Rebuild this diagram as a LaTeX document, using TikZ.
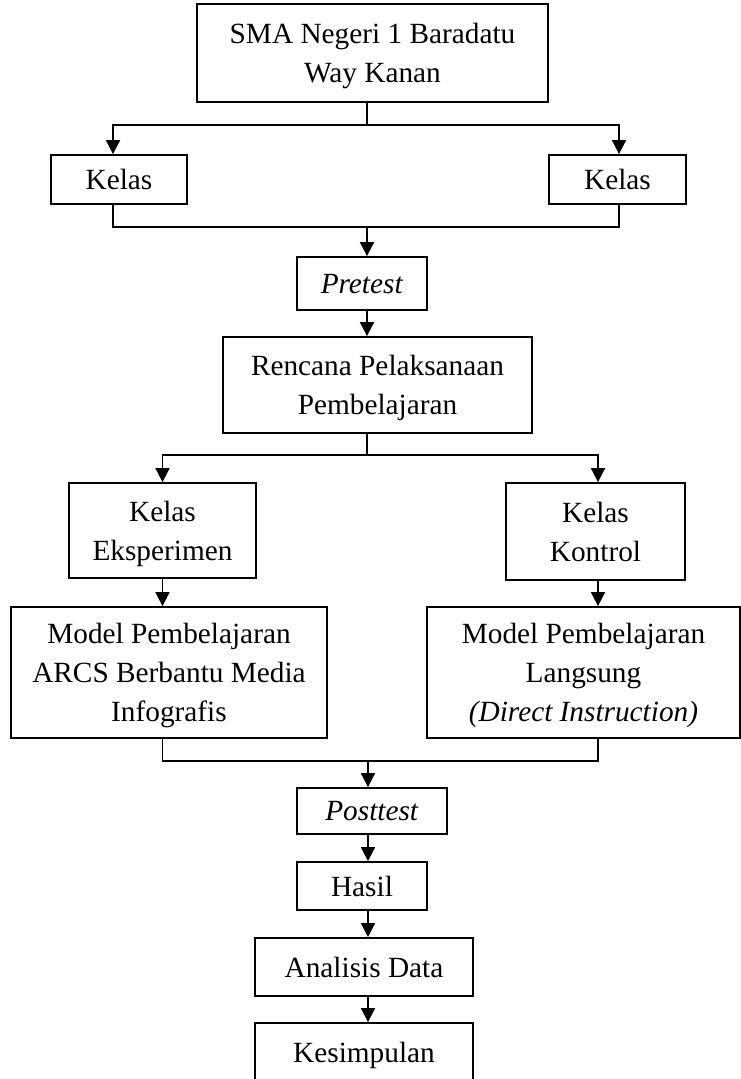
\documentclass[tikz,border=0pt]{standalone}
\usepackage{fontspec}
\setmainfont{Liberation Serif}
\usetikzlibrary{arrows.meta}

\tikzset{
  kotak/.style={draw, line width=1.8pt, inner sep=0pt, align=center, text depth=0pt,
    font=\fontsize{29.3}{39}\selectfont},
  garis/.style={line width=1.8pt},
  panah/.style={garis, -{Triangle[length=14pt, width=14pt]}},
}

\begin{document}
\begin{tikzpicture}[x=1pt, y=-1pt]
    \useasboundingbox (0,0) rectangle (741,1079);
    \clip (0,0) rectangle (741,1079);
    % sekolah
    \node[kotak, minimum width=351, minimum height=98] (sma) at (372.5,53) {SMA Negeri 1 Baradatu\\Way Kanan};
    % dua kelas awal
    \node[kotak, minimum width=136, minimum height=49] (kelasA) at (119,179.5) {Kelas};
    \node[kotak, minimum width=137, minimum height=49] (kelasB) at (617.5,179.5) {Kelas};
    % pretest dan RPP
    \node[kotak, minimum width=130, minimum height=53] (pre) at (362,283.5) {\textit{Pretest}};
    \node[kotak, minimum width=309, minimum height=96] (rpp) at (377.5,385) {Rencana Pelaksanaan\\Pembelajaran};
    % kelas eksperimen dan kontrol
    \node[kotak, minimum width=187, minimum height=95] (eksp) at (162.5,530.5) {Kelas\\Eksperimen};
    \node[kotak, minimum width=179, minimum height=97] (kontrol) at (595.5,531.5) {Kelas\\Kontrol};
    % model pembelajaran
    \node[kotak, minimum width=316, minimum height=131] (modelA) at (169,672.5) {Model Pembelajaran\\ARCS Berbantu Media\\Infografis};
    \node[kotak, minimum width=313, minimum height=131] (modelB) at (583.5,672.5) {Model Pembelajaran\\Langsung\\\textit{(Direct Instruction)}};
    % posttest sampai kesimpulan
    \node[kotak, minimum width=150, minimum height=46] (post) at (372,811) {\textit{Posttest}};
    \node[kotak, minimum width=130, minimum height=48] (hasil) at (362,886) {Hasil};
    \node[kotak, minimum width=218, minimum height=58] (analisis) at (364,967) {Analisis Data};
    \node[kotak, minimum width=218, minimum height=58] (simpul) at (364,1052) {Kesimpulan};

    % titik percabangan
    \coordinate (t1) at (367,125);
    \coordinate (t2) at (367,227);
    \coordinate (t3) at (367,455);
    \coordinate (t4) at (368,761);
    \coordinate (kA) at (113,0);
    \coordinate (kB) at (619,0);
    \coordinate (mB) at (598,0);

    % cabang ke dua kelas
    \draw[garis] (sma.south -| t1) -- (t1);
    \draw[panah] (t1) -| (kelasA.north -| kA);
    \draw[panah] (t1) -| (kelasB.north -| kB);
    % gabung ke pretest
    \draw[garis] (kelasA.south -| kA) |- (t2) -| (kelasB.south -| kB);
    \draw[panah] (t2) -- (pre.north -| t2);
    \draw[panah] (pre.south -| t2) -- (rpp.north -| t2);
    % cabang eksperimen / kontrol
    \draw[garis] (rpp.south -| t3) -- (t3);
    \draw[panah] (t3) -| (eksp.north);
    \draw[panah] (t3) -| (kontrol.north -| mB);
    \draw[panah] (eksp.south) -- (modelA.north -| eksp.south);
    \draw[panah] (kontrol.south -| mB) -- (modelB.north -| mB);
    % gabung ke posttest
    \draw[garis] (modelA.south -| eksp.south) |- (t4) -| (modelB.south -| mB);
    \draw[panah] (t4) -- (post.north -| t4);
    \draw[panah] (post.south -| t4) -- (hasil.north -| t4);
    \draw[panah] (hasil.south -| t4) -- (analisis.north -| t4);
    \draw[panah] (analisis.south -| t4) -- (simpul.north -| t4);
\end{tikzpicture}
\end{document}
